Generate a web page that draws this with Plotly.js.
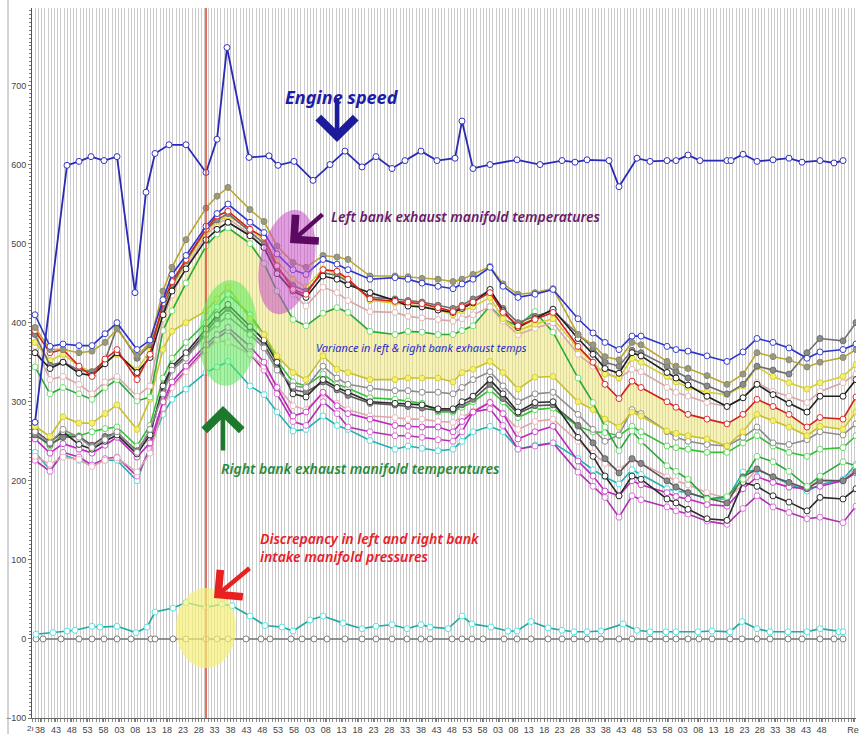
<!DOCTYPE html>
<html><head><meta charset="utf-8">
<script src="https://cdn.plot.ly/plotly-3.0.1.min.js"></script>
<style>html,body{margin:0;padding:0;background:#fff}#chart{width:860px;height:734px}</style>
</head><body><div id="chart"></div>
<script>
// ---- time axis (sample positions) ----
const tempTime = [3,18,31,47,60,73,85,105,118,131,140,154,174,185,196,218,232,245,261,274,291,305,316,338,363,376,390,406,421,430,441,458,471,486,503,521,546,561,573,587,600,609,635,644,656,675,695,711,725,741,757,775,788,811,824];
const speedTime = [3,35,47,59,72,85,103,114,123,137,154,174,185,195,217,237,246,262,281,298,313,330,344,360,373,389,405,423,430,441,458,485,508,530,543,555,577,587,605,618,635,644,656,668,695,699,711,725,741,757,770,788,802,811];
const pressRTime = [4,21,35,43,60,68,85,104,115,123,141,154,174,190,200,218,233,250,261,278,291,311,330,344,360,375,389,398,416,430,440,459,476,485,499,516,530,542,555,569,591,605,618,634,644,666,680,698,710,725,738,756,775,788,807,811];
const pressLTime = [4,11,29,47,60,72,85,99,119,123,141,154,174,185,196,214,229,238,259,270,282,295,313,330,344,360,375,389,398,420,430,440,451,472,485,499,516,530,542,555,569,587,600,618,634,644,656,667,680,698,710,725,738,756,770,788,802,811];
const tickPos = [8,23.9,39.8,55.6,71.5,87.4,103.3,119.1,135,150.9,166.8,182.6,198.5,214.4,230.3,246.1,262,277.9,293.8,309.6,325.5,341.4,357.3,373.1,389,404.4,419.8,435.2,450.6,466,481.4,496.8,512.2,527.6,543,558.4,573.8,589.2,604.6,620,635.4,650.8,666.2,681.6,697,712.4,727.8,743.2,758.6,774,789.4,821];
const tickText = ["38","43","48","53","58","03","08","13","18","23","28","33","38","43","48","53","58","03","08","13","18","23","28","33","38","43","48","53","58","03","08","13","18","23","28","33","38","43","48","53","58","03","08","13","18","23","28","33","38","43","48","Re"];
const markerTime = 174;

// ---- engine speed ----
const engineSpeed = [274,599,604,610,605,610,438,565,614,625,625,590,632,748,609,611,599,604,580,600,617,597,610,595,605,617,605,608,655,595,600,606,600,605,603,606,605,572,608,604,605,605,612,605,605,605,613,604,606,608,603,605,602,605];

// ---- intake manifold pressures ----
const intakeRight = [6,8,10,11,16,15,16,8,15,34,39,46,40,44,42,29,17,15,10,24,29,20,13,16,18,13,18,15,13,29,19,15,10,10,22,14,11,9,9,10,19,11,9,9,9,9,10,9,22,13,9,9,9,13,9,9];
const intakeLeft = [0,0,0,0,0,0,0,0,0,0,0,0,0,0,0,0,0,0,0,0,0,0,0,0,0,0,0,0,0,0,0,0,0,0,0,0,0,0,0,0,0,0,0,0,0,0,0,0,0,0,0,0,0,0,0,0,0,0];

// ---- left bank exhaust temps ----
const leftBlue   = [410,370,373,371,371,386,400,366,378,429,461,485,522,538,550,527,514,487,467,461,480,474,467,455,457,455,450,446,443,449,455,470,446,432,436,442,405,387,375,366,383,383,370,366,364,358,351,363,380,375,368,355,363,366,373];
const leftGold   = [394,366,366,362,364,375,392,358,375,440,470,505,545,560,571,543,528,497,476,470,485,483,480,459,459,458,456,455,452,455,461,471,449,436,438,443,385,372,357,353,375,372,351,345,342,333,322,335,362,357,353,344,350,356,366];
const leftRed    = [390,362,366,345,332,354,366,328,360,425,452,480,518,535,541,518,508,472,442,436,467,465,455,430,427,426,424,419,414,420,426,438,413,396,404,413,370,350,322,304,326,318,300,293,284,278,272,284,303,294,284,268,280,278,306];
const leftBlack  = [362,342,350,336,333,348,362,337,356,410,440,468,505,518,527,510,495,462,440,432,459,455,448,438,428,421,420,416,413,418,425,442,415,394,405,417,380,360,342,336,362,358,337,330,321,307,294,305,322,309,298,287,307,307,328];
const leftGray   = [385,346,350,340,338,352,394,355,372,418,448,478,518,530,538,515,500,470,447,440,463,460,452,432,430,428,426,422,418,422,430,440,418,400,408,415,385,368,350,345,365,362,345,338,330,320,310,322,345,340,335,362,380,377,400];
const leftYellow = [375,352,360,345,338,350,360,340,365,415,445,475,515,528,535,518,505,478,455,445,468,462,455,428,425,423,421,416,410,415,420,432,405,390,398,405,368,350,335,330,355,350,332,325,318,312,309,320,344,332,324,316,324,332,347];
const leftPink   = [370,328,332,322,310,325,332,307,320,405,435,470,510,525,532,512,495,465,436,421,445,438,428,414,413,408,406,404,402,405,410,420,402,385,393,400,360,345,337,330,341,338,318,312,307,299,294,305,324,313,307,299,313,324,335];
const leftGreen  = [344,310,318,310,303,318,328,301,306,390,415,450,497,512,520,500,475,440,404,396,412,419,413,389,385,389,388,385,385,390,396,421,404,396,414,388,330,299,268,238,263,250,219,212,202,177,180,202,231,224,212,193,206,224,219];

// ---- right bank exhaust temps ----
const rightYellow  = [269,256,281,273,273,285,296,265,303,366,389,400,415,430,445,405,385,358,337,328,358,341,337,328,328,330,330,330,325,337,341,351,337,316,331,332,300,290,278,268,287,282,263,260,257,253,244,262,284,276,268,257,269,265,287];
const rightGray    = [262,248,265,255,242,252,262,236,265,310,340,355,385,398,408,385,368,340,320,318,345,330,322,317,314,314,312,312,310,318,328,338,320,300,310,312,284,265,250,258,290,285,262,255,250,246,244,255,268,248,246,252,262,258,272];
const rightBlack   = [263,249,262,246,240,250,258,234,258,320,345,362,392,410,423,395,378,350,310,306,328,318,312,300,298,297,296,291,291,300,307,328,310,287,299,300,255,231,206,181,206,202,177,172,164,152,150,198,193,181,173,162,179,177,190];
const rightDkGray  = [258,246,255,256,245,256,261,238,262,315,342,358,388,405,418,390,372,345,315,312,325,315,308,298,296,294,292,289,289,296,303,322,304,285,295,296,270,248,228,210,228,222,200,192,185,178,172,205,215,205,198,190,200,200,212];
const rightGreen   = [259,244,259,257,262,266,268,244,270,330,355,375,400,420,436,410,385,352,325,320,335,322,317,305,303,301,298,287,287,293,300,315,300,280,290,292,269,262,261,257,269,262,244,242,240,236,236,248,257,244,236,231,240,242,257];
const rightPink    = [231,221,230,227,218,226,229,211,235,292,318,338,365,378,375,360,345,320,295,290,310,298,290,282,280,278,278,275,274,280,288,300,285,265,275,278,250,235,222,214,227,222,205,200,195,185,178,195,215,205,198,190,202,200,215];
const rightMagenta = [253,235,247,240,235,245,255,230,248,300,325,345,372,385,394,370,350,318,282,287,312,295,285,278,270,269,268,268,262,275,287,299,285,253,262,269,225,206,187,181,200,195,185,180,177,170,168,190,205,198,192,190,193,200,210];
const rightPurple  = [226,212,236,230,220,228,230,206,240,295,320,340,368,380,390,360,340,310,275,270,300,285,268,262,257,257,255,252,250,262,287,291,270,240,244,248,211,193,179,154,181,176,167,162,158,149,145,165,181,167,160,152,154,147,168];
const rightCyan    = [236,214,233,226,220,226,226,200,244,284,303,316,337,344,351,320,309,287,263,265,282,270,265,251,240,244,241,238,240,250,262,269,262,240,245,248,228,214,205,196,214,208,190,187,185,177,177,211,214,205,196,187,195,202,221];

// ---- variance band (between the two banks) ----
const bandStart = 9;
const bandUpper = [400,430,460,500,512,520,505,478,440,404,396,412,419,413,389,385,389,388,385,385,390,396,421,404,396,414,388,370,350,322,304,326,318,300,293,284,278,272,284,303,294,284,268,280,278,306];
const bandLower = [366,389,400,415,430,445,405,385,358,337,328,358,341,337,328,328,330,330,330,325,337,341,351,337,316,331,332,300,290,278,268,287,282,263,260,257,253,244,262,284,276,268,257,269,265,287];

// ---------------- drawing ----------------
const bandX = tempTime.slice(bandStart);
function line(x, y, color, mfill, mline, w) {
  return {type:'scatter', mode:'lines+markers', x:x, y:y, hoverinfo:'skip',
    line:{color:color, width:w||1.6},
    marker:{symbol:'circle', size:6, color:mfill, line:{color:mline, width:1}}};
}
const traces = [
  {type:'scatter', mode:'lines', x:bandX, y:bandLower, line:{width:0, color:'rgba(0,0,0,0)'}, hoverinfo:'skip'},
  {type:'scatter', mode:'lines', x:bandX, y:bandUpper, fill:'tonexty', fillcolor:'rgba(240,232,110,0.5)', line:{width:0, color:'rgba(0,0,0,0)'}, hoverinfo:'skip'},
  line(tempTime, rightCyan,   '#22b0b0', '#ffffff', '#55e0e0'),
  line(tempTime, rightPurple, '#b030b0', '#ffffff', '#e070e0'),
  line(tempTime, rightPink,   '#dda6ac', '#ffffff', '#f0b8c0'),
  line(tempTime, rightMagenta,'#c028c0', '#ffffff', '#d050d0'),
  line(tempTime, rightGreen,  '#38c038', '#ffffff', '#60e060'),
  line(tempTime, rightDkGray, '#555555', '#8a8a8a', '#666666'),
  line(tempTime, rightBlack,  '#2a2a2a', '#ffffff', '#333333'),
  line(tempTime, rightGray,   '#8c8c8c', '#ffffff', '#909090'),
  line(tempTime, rightYellow, '#c8c02c', '#f6f070', '#d8d040'),
  line(tempTime, leftGreen,   '#2aa83a', '#ffffff', '#70e070'),
  line(tempTime, leftPink,    '#d8a8a8', '#ffffff', '#e8b8b8'),
  line(tempTime, leftYellow,  '#d6ce30', '#f6f070', '#d8d040'),
  line(tempTime, leftGray,    '#6e6e6e', '#8c8c8c', '#707070'),
  line(tempTime, leftBlack,   '#1e1e1e', '#ffffff', '#222222'),
  line(tempTime, leftRed,     '#d4201c', '#ffffff', '#e03030'),
  line(tempTime, leftGold,    '#bca62c', '#9a9a80', '#8a8a70'),
  line(tempTime, leftBlue,    '#2b35c8', '#ffffff', '#3a40d0'),
  line(speedTime, engineSpeed,'#2a2ab8', '#ffffff', '#3434c0', 1.8),
  line(pressLTime, intakeLeft, '#707070', '#ffffff', '#808080'),
  line(pressRTime, intakeRight,'#25a89e', '#ffffff', '#55e6e6')
];

const W = 824, H = 710, L = 32, T = 8;
const px = v => (v - L) / W, py = v => (T + H - v) / H;
function ellipse(cx, cy, rx, ry, deg) {
  const th = deg * Math.PI / 180; let p = '';
  for (let i = 0; i <= 60; i++) {
    const a = 2 * Math.PI * i / 60, x = rx * Math.cos(a), y = ry * Math.sin(a);
    const xr = cx + x * Math.cos(th) - y * Math.sin(th), yr = cy + x * Math.sin(th) + y * Math.cos(th);
    p += (i ? 'L' : 'M') + px(xr).toFixed(5) + ',' + py(yr).toFixed(5);
  }
  return p + 'Z';
}
const shapes = [
  {type:'line', xref:'paper', yref:'paper', x0:px(8), x1:px(8), y0:-0.03, y1:1.02, line:{color:'#a8a8a8', width:1}},
  {type:'line', xref:'x', yref:'paper', x0:markerTime, x1:markerTime, y0:0, y1:1, line:{color:'#e0402a', width:1.5}, layer:'above'},
  {type:'path', xref:'paper', yref:'paper', path:ellipse(287, 262, 27, 53, 12), fillcolor:'rgba(200,80,200,0.55)', line:{width:0}, layer:'above'},
  {type:'path', xref:'paper', yref:'paper', path:ellipse(228, 333, 29, 53, 4), fillcolor:'rgba(90,235,90,0.55)', line:{width:0}, layer:'above'},
  {type:'path', xref:'paper', yref:'paper', path:ellipse(206, 628, 30, 40, 0), fillcolor:'rgba(245,240,120,0.7)', line:{width:0}, layer:'above'}
];
const fam = '"Noto Sans", "Open Sans", sans-serif';
function arrow(hx, hy, ax, ay, color, w, s) {
  return {xref:'paper', yref:'paper', x:px(hx), y:py(hy), ax:ax, ay:ay, text:'', showarrow:true,
    arrowhead:4, arrowsize:s, arrowwidth:w, arrowcolor:color, standoff:0};
}
const annotations = [
  {xref:'paper', yref:'paper', x:px(342), y:py(83), text:'<b><i>Engine speed</i></b>', showarrow:false, font:{family:fam, size:18, color:'#1c1caa'}},
  arrow(337, 142, 0, -45, '#1c1c9a', 4.5, 1.6),
  {xref:'paper', yref:'paper', x:px(466), y:py(205), text:'<i>Left bank exhaust manifold temperatures</i>', showarrow:false, font:{family:fam, size:14, weight:600, color:'#6a1a6a'}},
  arrow(290, 243, 34, -30, '#5a0a60', 4.5, 1.5),
  {xref:'paper', yref:'paper', x:px(421), y:py(347), text:'<i>Variance in left &amp; right bank exhaust temps</i>', showarrow:false, font:{family:fam, size:11, color:'#2a2acc'}},
  {xref:'paper', yref:'paper', x:px(360), y:py(468), text:'<i>Right bank exhaust manifold temperatures</i>', showarrow:false, font:{family:fam, size:14, weight:600, color:'#2a8a3a'}},
  arrow(223, 406, 0, 46, '#1d7a2c', 4.5, 1.6),
  {xref:'paper', yref:'paper', x:px(258), y:py(568), xanchor:'left', align:'left', text:'<i>Discrepancy in left and right bank<br>intake manifold pressures</i>', showarrow:false, font:{family:fam, size:14, weight:600, color:'#e8202a'}},
  arrow(214, 598, 37, -31, '#e82020', 4.5, 1.5),
  {xref:'paper', yref:'paper', x:px(35), y:py(734), xanchor:'right', yanchor:'bottom', borderpad:0, text:'2ı', showarrow:false, font:{family:'"Liberation Sans", Arial, sans-serif', size:8, color:'#444'}}
];
const layout = {
  width:860, height:734, margin:{l:L, r:4, t:T, b:16, pad:0},
  paper_bgcolor:'#ffffff', plot_bgcolor:'#ffffff', showlegend:false,
  xaxis:{range:[0,824], tickmode:'array', tickvals:tickPos, ticktext:tickText, tickangle:0, ticks:'outside', ticklen:3, tickcolor:'#777',
    showgrid:false, zeroline:false, showline:true, linecolor:'#666', linewidth:1,
    tickfont:{family:'"Liberation Sans", Arial, sans-serif', size:9, color:'#444'},
    minor:{tick0:0, dtick:3.2, showgrid:true, gridcolor:'#cccccc', gridwidth:1, ticks:'outside', ticklen:3, tickcolor:'#888'}},
  yaxis:{range:[-100,798], tickmode:'array', tickvals:[-100,0,100,200,300,400,500,600,700], ticks:'outside', ticklen:3, tickcolor:'#777',
    showgrid:false, zeroline:false, showline:true, linecolor:'#555', linewidth:1,
    tickfont:{family:'"Liberation Sans", Arial, sans-serif', size:9, color:'#444'},
    minor:{dtick:5, ticks:'outside', ticklen:2, tickcolor:'#777', showgrid:false}},
  shapes:shapes, annotations:annotations
};
Plotly.newPlot('chart', traces, layout, {staticPlot:true, displayModeBar:false});
</script></body></html>
